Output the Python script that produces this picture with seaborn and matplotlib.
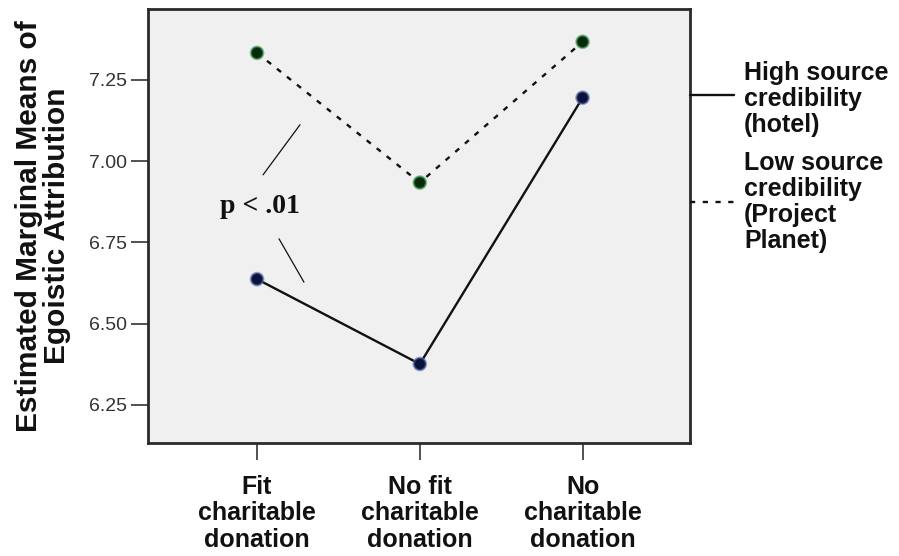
import matplotlib
matplotlib.use("Agg")
import matplotlib.pyplot as plt
from matplotlib.lines import Line2D
import seaborn as sns
import pandas as pd

categories = ["Fit\ncharitable\ndonation", "No fit\ncharitable\ndonation", "No\ncharitable\ndonation"]
high_values = [6.637, 6.376, 7.195]
low_values = [7.333, 6.934, 7.367]
group_labels = ["High source\ncredibility\n(hotel)", "Low source\ncredibility\n(Project\nPlanet)"]
y_ticks = [6.25, 6.50, 6.75, 7.00, 7.25]
y_label = "Estimated Marginal Means of\nEgoistic Attribution"
annotation = "p < .01"

df = pd.DataFrame({
    "cat": categories * 2,
    "mean": high_values + low_values,
    "group": ["High"] * 3 + ["Low"] * 3,
})

sns.set_theme(style="white")
plt.rcParams["font.family"] = ["Liberation Sans", "DejaVu Sans"]

fig = plt.figure(figsize=(8.99, 5.56), dpi=100)
ax = fig.add_axes([148 / 899, 1 - 443 / 556, (690 - 148) / 899, (443 - 9) / 556])
ax.set_facecolor("#f0f0f0")

sns.lineplot(data=df, x="cat", y="mean", hue="group", style="group",
             palette={"High": "#111111", "Low": "#111111"},
             dashes={"High": "", "Low": (2.2, 3.2)},
             linewidth=1.7, legend=False, ax=ax, sort=False)
sns.scatterplot(data=df, x="cat", y="mean", hue="group",
                palette={"High": "#0b1238", "Low": "#062a0c"},
                s=80, linewidth=1.6, legend=False, ax=ax, zorder=5)
edge_cols = {"High": "#5566aa", "Low": "#3f9a4a"}
for c in ax.collections:
    ecs = []
    for f in c.get_facecolors():
        key = "High" if f[2] > f[1] else "Low"
        ecs.append(matplotlib.colors.to_rgba(edge_cols[key], 0.6))
    c.set_edgecolors(ecs)

ax.set_xlim(-0.67, 2.66)
ax.set_ylim(6.133, 7.468)
ax.set_yticks(y_ticks)
ax.set_yticklabels([f"{v:.2f}" for v in y_ticks], fontsize=14, color="#333333")
ax.set_xticks(range(len(categories)))
ax.set_xticklabels(categories, fontsize=18, fontweight="bold", color="#111111", linespacing=1.13)
ax.tick_params(axis="both", which="both", length=12, width=1.2, color="#333333", direction="out",
               left=True, bottom=True)
ax.tick_params(axis="y", pad=3)
ax.tick_params(axis="x", pad=11)
ax.set_xlabel("")
ax.set_ylabel(y_label, fontsize=21.5, fontweight="bold", color="#111111", linespacing=1.02, labelpad=13)
for sp in ax.spines.values():
    sp.set_color("#2a2a2a")
    sp.set_linewidth(2.0)

# p < .01 annotation
ax.text(0.02, 6.862, annotation, family=["Liberation Serif", "DejaVu Serif"], fontsize=20,
        fontweight="bold", ha="center", va="center", color="#111111")
ax.plot([0.264, 0.037], [7.112, 6.958], color="#111111", lw=0.9)
ax.plot([0.135, 0.288], [6.761, 6.628], color="#111111", lw=0.9)

# legend drawn beside the axes
def fx(px):
    return px / 899
def fy(py):
    return 1 - py / 556

fig.add_artist(Line2D([fx(690), fx(734)], [fy(95), fy(95)], color="#111111", lw=1.7,
                      transform=fig.transFigure))
fig.add_artist(Line2D([fx(690), fx(734)], [fy(202), fy(202)], color="#111111", lw=1.7,
                      dashes=(2.2, 3.2), transform=fig.transFigure))
fig.text(fx(744), fy(61), group_labels[0], fontsize=18, fontweight="bold", color="#111111",
         ha="left", va="top", linespacing=1.1)
fig.text(fx(744), fy(151), group_labels[1], fontsize=18, fontweight="bold", color="#111111",
         ha="left", va="top", linespacing=1.1)

fig.savefig("out.png", dpi=100, facecolor="white")
